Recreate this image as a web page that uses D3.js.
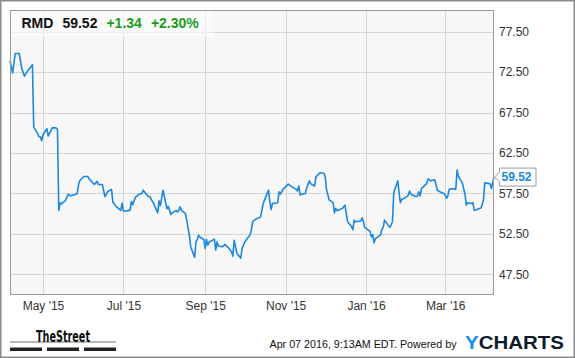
<!DOCTYPE html>
<html>
<head>
<meta charset="utf-8">
<script src="https://cdn.jsdelivr.net/npm/d3@7/dist/d3.min.js"></script>
<style>
  body { margin: 0; background: #fff; }
  svg { display: block; font-family: "Liberation Sans", Arial, sans-serif; }
  .axis text { font-size: 12px; fill: #333; }
  .axis path { display: none; }
</style>
</head>
<body>
<svg id="chart" width="575" height="358"></svg>
<script>
// RMD daily close, Apr 2015 - Apr 2016
var dates = [
  "2015-04-06","2015-04-08","2015-04-10","2015-04-13","2015-04-15","2015-04-17","2015-04-20","2015-04-22","2015-04-23","2015-04-24",
  "2015-04-27","2015-04-28","2015-04-29","2015-04-30","2015-05-01","2015-05-04","2015-05-05","2015-05-08","2015-05-11","2015-05-12",
  "2015-05-13","2015-05-14","2015-05-15","2015-05-18","2015-05-19","2015-05-20","2015-05-22","2015-05-26","2015-05-27","2015-05-28",
  "2015-05-29","2015-06-01","2015-06-04","2015-06-05","2015-06-09","2015-06-11","2015-06-12","2015-06-15","2015-06-17","2015-06-19",
  "2015-06-22","2015-06-23","2015-06-26","2015-06-29","2015-06-30","2015-07-01","2015-07-06","2015-07-07","2015-07-08","2015-07-10",
  "2015-07-13","2015-07-15","2015-07-16","2015-07-20","2015-07-21","2015-07-24","2015-07-27","2015-07-28","2015-07-29","2015-07-31",
  "2015-08-03","2015-08-04","2015-08-06","2015-08-07","2015-08-10","2015-08-11","2015-08-12","2015-08-13","2015-08-14","2015-08-17",
  "2015-08-18","2015-08-20","2015-08-21","2015-08-24","2015-08-25","2015-08-26","2015-08-27","2015-08-28","2015-08-31","2015-09-01",
  "2015-09-02","2015-09-03","2015-09-04","2015-09-08","2015-09-09","2015-09-10","2015-09-11","2015-09-14","2015-09-16","2015-09-18",
  "2015-09-21","2015-09-22","2015-09-23","2015-09-25","2015-09-28","2015-09-29","2015-10-01","2015-10-05","2015-10-06","2015-10-07",
  "2015-10-09","2015-10-12","2015-10-13","2015-10-15","2015-10-16","2015-10-19","2015-10-20","2015-10-21","2015-10-22","2015-10-26",
  "2015-10-27","2015-10-28","2015-10-30","2015-11-03","2015-11-05","2015-11-09","2015-11-10","2015-11-11","2015-11-12","2015-11-13",
  "2015-11-16","2015-11-17","2015-11-19","2015-11-20","2015-11-23","2015-11-24","2015-11-27","2015-11-30","2015-12-01","2015-12-02",
  "2015-12-04","2015-12-07","2015-12-08","2015-12-09","2015-12-10","2015-12-14","2015-12-16","2015-12-18","2015-12-21","2015-12-22",
  "2015-12-23","2015-12-24","2015-12-28","2015-12-29","2015-12-30","2015-12-31","2016-01-04","2016-01-05","2016-01-06","2016-01-07",
  "2016-01-08","2016-01-11","2016-01-12","2016-01-13","2016-01-14","2016-01-15","2016-01-19","2016-01-20","2016-01-21","2016-01-22",
  "2016-01-25","2016-01-27","2016-01-28","2016-02-01","2016-02-02","2016-02-03","2016-02-04","2016-02-08","2016-02-09","2016-02-10",
  "2016-02-11","2016-02-12","2016-02-16","2016-02-17","2016-02-19","2016-02-22","2016-02-23","2016-02-24","2016-02-26","2016-02-29",
  "2016-03-01","2016-03-02","2016-03-03","2016-03-04","2016-03-07","2016-03-09","2016-03-10","2016-03-11","2016-03-14","2016-03-16",
  "2016-03-17","2016-03-18","2016-03-21","2016-03-22","2016-03-23","2016-03-28","2016-03-29","2016-03-30","2016-03-31","2016-04-01",
  "2016-04-04","2016-04-05","2016-04-07"
];
var prices = [
  73.9,72.4,74.8,74.8,72.9,72.0,72.8,73.2,73.4,65.7,
  64.9,64.5,64.5,64.0,64.75,65.5,64.6,65.6,65.6,65.4,
  55.4,56.35,56.2,56.6,57.0,57.4,57.2,57.4,57.5,58.6,
  59.1,59.6,59.6,59.3,58.6,59.0,58.6,58.6,57.1,57.7,
  58.0,56.4,55.8,55.4,56.3,55.3,55.4,56.5,56.1,57.0,
  57.4,57.5,57.9,57.1,57.1,56.2,55.1,56.6,56.0,57.9,
  55.6,55.9,54.9,55.1,55.4,55.2,55.4,55.85,55.4,55.0,
  54.2,52.35,50.9,49.6,51.5,51.8,52.35,52.1,51.8,50.7,
  51.8,51.1,51.5,51.85,50.5,51.5,51.0,50.9,51.2,50.9,
  50.3,49.75,51.7,50.1,49.5,50.7,51.5,52.35,52.95,54.0,
  54.3,54.5,54.6,56.25,56.7,57.9,56.5,55.5,56.25,56.35,
  57.7,57.4,58.0,58.65,58.4,58.0,57.8,58.4,57.3,57.4,
  57.5,58.2,59.05,58.7,58.4,59.55,60.05,60.0,59.55,58.0,
  56.7,56.35,55.1,55.65,55.35,55.65,56.05,54.0,53.4,53.0,
  54.2,54.0,54.1,54.5,54.0,53.3,52.8,52.15,52.4,51.4,
  51.9,52.25,52.35,53.05,53.3,54.2,53.3,53.6,54.0,57.6,
  59.05,56.35,56.75,57.1,57.3,57.8,57.4,57.1,57.2,57.7,
  57.2,58.1,58.75,59.3,59.05,59.2,58.65,57.9,57.7,57.5,
  57.3,56.9,57.2,58.0,58.1,58.0,60.4,59.6,58.8,57.4,
  56.05,56.35,56.25,56.35,55.4,55.7,56.05,56.7,58.8,58.8,
  58.7,58.1,59.52
];
var yTicks = [47.5, 52.5, 57.5, 62.5, 67.5, 72.5, 77.5];
var xTickDates = ["2015-05-01","2015-07-01","2015-09-01","2015-11-01","2016-01-01","2016-03-01"];
var xTickLabels = ["May '15","Jul '15","Sep '15","Nov '15","Jan '16","Mar '16"];
var ticker = "RMD", lastPrice = "59.52", change = "+1.34", changePct = "+2.30%";

var parse = d3.timeParse("%Y-%m-%d");
var data = dates.map(function(d, i) { return {date: parse(d), price: prices[i]}; });
var tickDates = xTickDates.map(parse);

var svg = d3.select("#chart"),
    margin = {top: 10, right: 81, bottom: 63, left: 10},
    width = +svg.attr("width") - margin.left - margin.right,
    height = +svg.attr("height") - margin.top - margin.bottom;

var x = d3.scaleTime()
    .domain([parse("2015-04-06"), parse("2016-04-07")])
    .range([0, width]);
var y = d3.scaleLinear()
    .domain([44.94, 80.18])
    .range([height, 0]);

// outer frame
svg.append("rect")
    .attr("x", 0.75).attr("y", 0.75)
    .attr("width", 573.5).attr("height", 356.5)
    .attr("fill", "#fff")
    .attr("stroke", "#8c8c8c")
    .attr("stroke-width", 1.5);

var g = svg.append("g")
    .attr("transform", "translate(" + margin.left + "," + margin.top + ")");

g.append("rect")
    .attr("width", width).attr("height", height)
    .attr("fill", "#f7f7f7");

// grid
g.selectAll(".hgrid")
  .data(yTicks)
  .enter().append("line")
    .attr("class", "hgrid")
    .attr("x1", 0).attr("x2", width)
    .attr("y1", function(d) { return Math.round(y(d)) + 0.5; })
    .attr("y2", function(d) { return Math.round(y(d)) + 0.5; })
    .attr("stroke", "#d6d6d6");

g.selectAll(".vgrid")
  .data(tickDates)
  .enter().append("line")
    .attr("class", "vgrid")
    .attr("y1", 0).attr("y2", height)
    .attr("x1", function(d) { return Math.round(x(d)) + 0.5; })
    .attr("x2", function(d) { return Math.round(x(d)) + 0.5; })
    .attr("stroke", "#d6d6d6");

// price line
var line = d3.line()
    .x(function(d) { return x(d.date); })
    .y(function(d) { return y(d.price); });

g.append("path")
    .datum(data)
    .attr("fill", "none")
    .attr("stroke", "#1a88e3")
    .attr("stroke-width", 1.6)
    .attr("stroke-linejoin", "round")
    .attr("d", line);

// header box
g.append("rect")
    .attr("width", 203).attr("height", 27)
    .attr("fill", "#fff")
    .attr("fill-opacity", 0.55);

var head = g.append("text")
    .attr("x", 11.5).attr("y", 17.5)
    .attr("font-size", 14)
    .attr("font-weight", "bold");
head.append("tspan").attr("fill", "#111").text(ticker);
head.append("tspan").attr("dx", 9).attr("fill", "#111").text(lastPrice);
head.append("tspan").attr("dx", 9).attr("fill", "#1c9c1c").text(change);
head.append("tspan").attr("dx", 9).attr("fill", "#1c9c1c").text(changePct);

// plot border
g.append("rect")
    .attr("x", 0.5).attr("y", 0.5)
    .attr("width", width - 1).attr("height", height - 1)
    .attr("fill", "none")
    .attr("stroke", "#9a9a9a");

// axes
g.append("g")
    .attr("class", "axis axis--y")
    .attr("transform", "translate(" + width + ",0)")
    .call(d3.axisRight(y).tickValues(yTicks).tickSize(0).tickPadding(5)
      .tickFormat(d3.format(".2f")));

g.append("g")
    .attr("class", "axis axis--x")
    .attr("transform", "translate(0," + height + ")")
    .call(d3.axisBottom(x).tickValues(tickDates).tickSize(0).tickPadding(6)
      .tickFormat(function(d, i) { return xTickLabels[i]; }));

// last price marker
var lastY = y(prices[prices.length - 1]);
var tag = g.append("g").attr("transform", "translate(" + width + "," + lastY + ")");
tag.append("path")
    .attr("d", "M0.5,0 L5.5,-5 L5.5,-9 L42,-9 L42,9 L5.5,9 L5.5,5 Z")
    .attr("fill", "#fff")
    .attr("stroke", "#9a9a9a");
tag.append("text")
    .attr("x", 7.5).attr("y", 0)
    .attr("dy", "0.36em")
    .attr("font-size", 12)
    .attr("font-weight", "bold")
    .attr("fill", "#1a88e3")
    .text(lastPrice);

// footer
var foot = svg.append("g");
foot.append("text")
    .attr("x", 36).attr("y", 341.5)
    .attr("font-family", "'Liberation Sans Narrow', 'DejaVu Sans Condensed', sans-serif")
    .attr("font-size", 15)
    .attr("font-weight", "bold")
    .attr("fill", "#111")
    .attr("textLength", 54)
    .attr("lengthAdjust", "spacingAndGlyphs")
    .text("TheStreet");
foot.append("line")
    .attr("x1", 10).attr("x2", 116)
    .attr("y1", 342).attr("y2", 342)
    .attr("stroke", "#111").attr("stroke-width", 0.6);
[[10, 42], [47, 79], [84, 116]].forEach(function(b) {
  foot.append("rect")
      .attr("x", b[0]).attr("y", 347.5)
      .attr("width", b[1] - b[0]).attr("height", 3.5)
      .attr("fill", "#222");
});
foot.append("text")
    .attr("x", 269.5).attr("y", 348)
    .attr("font-size", 11)
    .attr("fill", "#111")
    .attr("textLength", 187)
    .attr("lengthAdjust", "spacingAndGlyphs")
    .text("Apr 07 2016, 9:13AM EDT.  Powered by");
var yc = foot.append("text")
    .attr("x", 465).attr("y", 348.5)
    .attr("font-size", 18.5)
    .attr("font-weight", "bold")
    .attr("textLength", 99)
    .attr("lengthAdjust", "spacingAndGlyphs");
yc.append("tspan").attr("fill", "#1a8fe3").text("Y");
yc.append("tspan").attr("fill", "#0d1a2b").text("CHARTS");
</script>
</body>
</html>
